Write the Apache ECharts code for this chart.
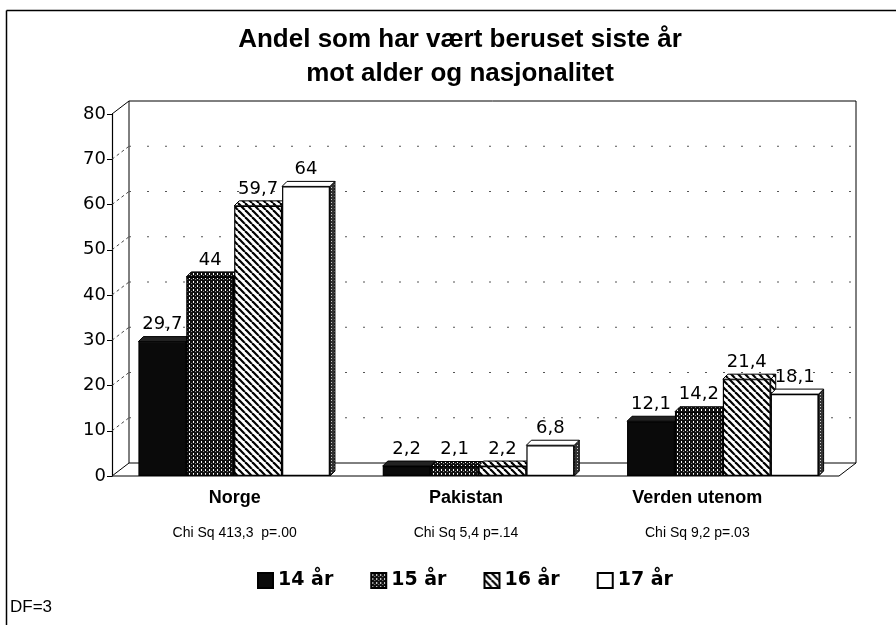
<!DOCTYPE html>
<html><head><meta charset="utf-8">
<script src="https://cdn.jsdelivr.net/npm/echarts@6/dist/echarts.min.js"></script>
<style>html,body{margin:0;padding:0;background:#fff}#c{width:896px;height:625px}</style>
</head><body><div id="c"></div>
<script>
// ---- data ----
const categories = ['Norge', 'Pakistan', 'Verden utenom'];
const chiLabels = ['Chi Sq 413,3  p=.00', 'Chi Sq 5,4 p=.14', 'Chi Sq 9,2 p=.03'];
const seriesNames = ['14 år', '15 år', '16 år', '17 år'];
const age14 = [29.7, 2.2, 12.1];
const age15 = [44, 2.1, 14.2];
const age16 = [59.7, 2.2, 21.4];
const age17 = [64, 6.8, 18.1];
const yTicks = [0, 10, 20, 30, 40, 50, 60, 70, 80];
const seriesValues = [age14, age15, age16, age17];

// ---- patterns ----
function mk(w, h, draw) { const c = document.createElement('canvas'); c.width = w; c.height = h; const g = c.getContext('2d'); draw(g, w, h); return { image: c, repeat: 'repeat' }; }
const pBlack = '#0a0a0a';
const pDots = mk(4, 4, (g) => { g.fillStyle = '#111'; g.fillRect(0, 0, 4, 4); g.fillStyle = '#fff'; g.fillRect(1, 1, 1, 2); g.fillStyle = '#888'; g.fillRect(3, 3, 1, 1); });
const pHatch = mk(7, 7, (g) => { g.fillStyle = '#fff'; g.fillRect(0, 0, 7, 7); g.strokeStyle = '#000'; g.lineWidth = 2.2; for (let k = -1; k <= 1; k++) { g.beginPath(); g.moveTo(k * 7, 0); g.lineTo(k * 7 + 7, 7); g.stroke(); } });
const pWhite = '#ffffff';
const pSideGray = mk(3, 3, (g) => { g.fillStyle = '#333'; g.fillRect(0, 0, 3, 3); g.fillStyle = '#ccc'; g.fillRect(1, 1, 1, 1); });
const fills = [pBlack, pDots, pHatch, pWhite];
const topFills = ['#222', pDots, pHatch, '#fff'];
const sideFills = ['#000', pDots, pHatch, pSideGray];

const GAP = 0.216;
const WALL = { dx: 17, dy: -13 };
const BAR3D = { dx: 5, dy: -5 };
const FONT = 'Liberation Sans, Arial, sans-serif';
const WIDE = 'DejaVu Sans, sans-serif';

function fmt(v) { return String(v).replace('.', ','); }

function render3d(si) {
  return function (params, api) {
    const cat = api.value(0), val = api.value(1);
    const base = api.coord([cat, 0]);
    const top = api.coord([cat, val]);
    const band = api.size([1, 0])[0];
    const total = band * (1 - GAP);
    const bw = total / 4;
    const xl = base[0] - total / 2 + si * bw, xr = xl + bw;
    const yt = top[1], yb = base[1];
    const st = { stroke: '#000', lineWidth: 1 };
    return {
      type: 'group', children: [
        { type: 'polygon', shape: { points: [[xr, yb], [xr + BAR3D.dx, yb + BAR3D.dy], [xr + BAR3D.dx, yt + BAR3D.dy], [xr, yt]] }, style: Object.assign({ fill: sideFills[si] }, st) },
        { type: 'polygon', shape: { points: [[xl, yt], [xl + BAR3D.dx, yt + BAR3D.dy], [xr + BAR3D.dx, yt + BAR3D.dy], [xr, yt]] }, style: Object.assign({ fill: topFills[si] }, st) }
      ]
    };
  };
}

function renderFrame(params, api) {
  const cs = params.coordSys;
  const x0 = cs.x, x1 = cs.x + cs.width - 6, yb = cs.y + cs.height, ytop = cs.y;
  const dx = WALL.dx, dy = WALL.dy;
  const ch = [];
  const line = (a, b, extra) => ch.push({ type: 'line', shape: { x1: a[0], y1: a[1], x2: b[0], y2: b[1] }, style: Object.assign({ stroke: '#000', lineWidth: 1 }, extra || {}) });
  // floor
  ch.push({ type: 'polygon', shape: { points: [[x0, yb], [x0 + dx, yb + dy], [x1 + dx, yb + dy], [x1, yb]] }, style: { fill: '#fff', stroke: '#000', lineWidth: 1 } });
  // back wall
  line([x0 + dx, ytop + dy], [x0 + dx, yb + dy]);
  line([x0 + dx, ytop + dy], [x1 + dx, ytop + dy]);
  line([x1 + dx, ytop + dy], [x1 + dx, yb + dy]);
  line([x0, ytop], [x0 + dx, ytop + dy]);
  yTicks.forEach((t) => {
    if (t === 0 || t === 80) return;
    const y = api.coord([0, t])[1];
    line([x0 + dx, y + dy], [x1 + dx, y + dy], { lineDash: [2, 16], stroke: '#555' });
    line([x0, y], [x0 + dx, y + dy], { lineDash: [3, 3], stroke: '#444' });
  });
  return { type: 'group', children: ch };
}

const chart = echarts.init(document.getElementById('c'), null, { renderer: 'canvas' });
const series = [];
series.push({ type: 'custom', name: 'frame', z: 1, silent: true, renderItem: renderFrame, data: [[0, 0]], xAxisIndex: 0, yAxisIndex: 0 });
seriesNames.forEach((n, si) => {
  series.push({ type: 'custom', z: 2, silent: true, renderItem: render3d(si), data: categories.map((c, j) => [j, seriesValues[si][j]]), xAxisIndex: 0, yAxisIndex: 0 });
});
seriesNames.forEach((n, si) => {
  series.push({
    type: 'bar', name: n, z: 3, data: seriesValues[si], barGap: '0%', barCategoryGap: (GAP * 100) + '%',
    itemStyle: { color: fills[si], borderColor: '#000', borderWidth: 1.2 },
    label: { show: true, position: 'top', distance: 8, color: '#000', fontSize: 18, fontFamily: WIDE, formatter: (p) => fmt(p.value) },
    emphasis: { disabled: true }
  });
});

chart.setOption({
  animation: false,
  backgroundColor: '#fff',
  title: {
    text: 'Andel som har vært beruset siste år\nmot alder og nasjonalitet',
    left: 455, top: 18, textAlign: 'center',
    textStyle: { fontFamily: FONT, fontSize: 26, fontWeight: 'bold', color: '#000', lineHeight: 34 }
  },
  legend: {
    data: seriesNames, left: 252, top: 566, itemWidth: 15, itemHeight: 15, itemGap: 37, icon: 'rect',
    textStyle: { fontFamily: WIDE, fontSize: 19, fontWeight: 'bold', color: '#000' },
    selectedMode: false
  },
  grid: [
    { left: 112, top: 114, width: 733, height: 362 },
    { left: 119, top: 114, width: 694, height: 362 }
  ],
  xAxis: [
    { type: 'category', gridIndex: 0, data: categories, axisLine: { show: false }, axisTick: { show: false }, axisLabel: { show: false } },
    {
      type: 'category', gridIndex: 1, data: categories, axisLine: { show: false }, axisTick: { show: false },
      axisLabel: {
        margin: 11, interval: 0,
        formatter: (v, i) => '{a|' + v + '}\n{b|' + chiLabels[i] + '}',
        rich: {
          a: { fontFamily: FONT, fontSize: 18, fontWeight: 'bold', color: '#000', lineHeight: 22 },
          b: { fontFamily: FONT, fontSize: 14, color: '#000', lineHeight: 48 }
        }
      }
    }
  ],
  yAxis: [
    {
      type: 'value', gridIndex: 0, min: 0, max: 80, interval: 10,
      axisLine: { show: true, lineStyle: { color: '#000', width: 1.2 } },
      axisTick: { show: true, length: 5, lineStyle: { color: '#000' } },
      splitLine: { show: false },
      axisLabel: { fontFamily: WIDE, fontSize: 18, color: '#000', margin: 6 }
    },
    { type: 'value', gridIndex: 1, min: 0, max: 80, show: false }
  ],
  graphic: [
    { type: 'line', shape: { x1: 6.5, y1: 10.5, x2: 896, y2: 10.5 }, style: { stroke: '#000', lineWidth: 1.5 } },
    { type: 'line', shape: { x1: 6.5, y1: 10.5, x2: 6.5, y2: 625 }, style: { stroke: '#000', lineWidth: 1.5 } },
    { type: 'text', left: 10, top: 599, style: { text: 'DF=3', font: '17px ' + FONT, fill: '#000' } }
  ],
  series: series
});
</script>
</body></html>
